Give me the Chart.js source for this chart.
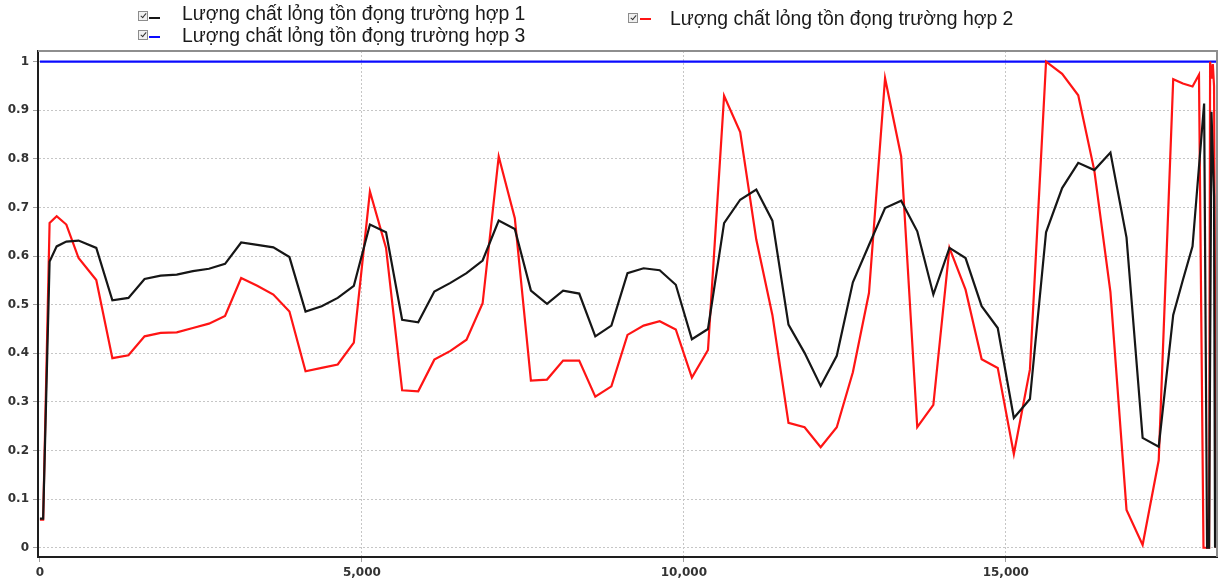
<!DOCTYPE html>
<html><head><meta charset="utf-8">
<script src="https://cdn.jsdelivr.net/npm/chart.js@4.4.1/dist/chart.umd.min.js"></script>
<style>
html,body{margin:0;padding:0;background:#fff;}
#wrap{position:relative;width:1219px;height:581px;overflow:hidden;}
canvas{position:absolute;left:0;top:0;}
.tx{position:absolute;font-family:"Liberation Sans",Arial,sans-serif;font-size:19.4px;line-height:22px;color:#1a1a1a;white-space:nowrap;}
.cb{position:absolute;width:8px;height:8px;border:1px solid #8c8c8c;background:#f0f0f0;box-sizing:content-box;}
.cb::after{content:"";position:absolute;left:2.5px;top:0px;width:2px;height:5px;border-right:1.5px solid #333;border-bottom:1.5px solid #333;transform:rotate(40deg);}
.ln{position:absolute;width:11px;height:2px;}
</style></head>
<body><div id="wrap"><canvas id="c" width="1219" height="581"></canvas><div id="legend"></div></div>
<script>
// ---- data ----
const seriesNames = [
  "Lượng chất lỏng tồn đọng trường hợp 1",
  "Lượng chất lỏng tồn đọng trường hợp 2",
  "Lượng chất lỏng tồn đọng trường hợp 3"
];
const xs = [0, 50, 150, 260, 410, 600, 875, 1125, 1375, 1625, 1875, 2125, 2375, 2625, 2875,
  3125, 3375, 3625, 3875, 4125, 4375, 4625, 4875, 5125, 5375, 5625, 5875, 6125, 6375, 6625, 6875,
  7125, 7375, 7625, 7875, 8125, 8375, 8625, 8875, 9125, 9375, 9625, 9875, 10125, 10375, 10625, 10875,
  11125, 11375, 11625, 11875, 12125, 12375, 12625, 12875, 13125, 13375, 13625, 13875, 14125, 14375, 14625, 14875,
  15125, 15375, 15625, 15875, 16125, 16375, 16625, 16875, 17125, 17375, 17600, 17750, 17900, 18000,
  18070, 18080, 18126, 18157, 18173, 18194, 18215, 18234, 18250, 18266];
const series1 = [0.06, 0.06, 0.589, 0.620, 0.630, 0.632, 0.617, 0.509, 0.514, 0.553, 0.560, 0.562, 0.569, 0.574, 0.584,
  0.628, 0.623, 0.618, 0.598, 0.486, 0.497, 0.514, 0.539, 0.665, 0.649, 0.469, 0.464, 0.527, 0.545, 0.565, 0.591,
  0.673, 0.656, 0.529, 0.502, 0.529, 0.523, 0.435, 0.457, 0.565, 0.575, 0.571, 0.541, 0.429, 0.450, 0.668, 0.716,
  0.737, 0.673, 0.459, 0.401, 0.333, 0.395, 0.546, 0.623, 0.699, 0.714, 0.651, 0.521, 0.617, 0.596, 0.497, 0.452,
  0.267, 0.306, 0.649, 0.740, 0.792, 0.777, 0.813, 0.638, 0.226, 0.208, 0.479, 0.551, 0.620, null,
  null, 0.914, 0.0, 0.0, null, 0.897, null, 0.723, 0.0, null];
const series2 = [0.058, 0.058, 0.668, 0.682, 0.665, 0.596, 0.551, 0.390, 0.396, 0.435, 0.442, 0.443, 0.452, 0.461, 0.477,
  0.555, 0.539, 0.521, 0.486, 0.363, 0.370, 0.377, 0.422, 0.733, 0.617, 0.324, 0.322, 0.387, 0.405, 0.428, 0.503,
  0.805, 0.678, 0.344, 0.346, 0.385, 0.385, 0.311, 0.332, 0.438, 0.457, 0.466, 0.449, 0.350, 0.407, 0.930, 0.855,
  0.634, 0.479, 0.257, 0.248, 0.207, 0.248, 0.361, 0.524, 0.966, 0.805, 0.248, 0.294, 0.617, 0.531, 0.388, 0.370,
  0.193, 0.367, 1.0, 0.975, 0.931, 0.776, 0.526, 0.078, 0.006, 0.180, 0.964, 0.955, 0.949, 0.973,
  0.0, null, null, 0.0, 1.0, 0.965, 0.995, 0.95, null, 0.0];
const xs3 = [0, 18280];
const series3 = [1, 1];
const xTicks = [0, 5000, 10000, 15000];
const xTickLabels = ["0", "5,000", "10,000", "15,000"];
const yTicks = [0, 0.1, 0.2, 0.3, 0.4, 0.5, 0.6, 0.7, 0.8, 0.9, 1];
const yTickLabels = ["0", "0.1", "0.2", "0.3", "0.4", "0.5", "0.6", "0.7", "0.8", "0.9", "1"];
const colors = ["#161616", "#ff1414", "#0a0aff"];

// ---- legend (HTML) ----
const legendPos = [
  {cbx: 138, cby: 11, lnx: 149, lny: 17, tx: 182, ty: 2},
  {cbx: 628, cby: 13, lnx: 640, lny: 18, tx: 670, ty: 7},
  {cbx: 138, cby: 30, lnx: 149, lny: 36, tx: 182, ty: 24}
];
const lg = document.getElementById('legend');
seriesNames.forEach((name, i) => {
  const p = legendPos[i];
  const cb = document.createElement('span'); cb.className = 'cb';
  cb.style.left = p.cbx + 'px'; cb.style.top = p.cby + 'px'; lg.appendChild(cb);
  const ln = document.createElement('span'); ln.className = 'ln';
  ln.style.left = p.lnx + 'px'; ln.style.top = p.lny + 'px'; ln.style.background = colors[i]; lg.appendChild(ln);
  const t = document.createElement('span'); t.className = 'tx';
  t.style.left = p.tx + 'px'; t.style.top = p.ty + 'px'; t.textContent = name; lg.appendChild(t);
});

const frame = {
  id: 'frame',
  afterDatasetsDraw(c) {
    const {ctx, chartArea: a} = c;
    ctx.save();
    ctx.strokeStyle = '#8e8e8e'; ctx.lineWidth = 2;
    ctx.beginPath();
    ctx.moveTo(a.left, a.top); ctx.lineTo(a.right, a.top); ctx.lineTo(a.right, a.bottom);
    ctx.stroke();
    ctx.restore();
  }
};

const tickFont = {family: "'DejaVu Sans', sans-serif", size: 12, weight: 'bold'};
new Chart(document.getElementById('c'), {
  type: 'line',
  data: {
    datasets: [
      {label: seriesNames[0], data: xs.map((x, i) => ({x: x, y: series1[i]})), borderColor: colors[0], borderWidth: 2.2, pointRadius: 0, spanGaps: true, tension: 0},
      {label: seriesNames[1], data: xs.map((x, i) => ({x: x, y: series2[i]})), borderColor: colors[1], borderWidth: 2.2, pointRadius: 0, spanGaps: true, tension: 0},
      {label: seriesNames[2], data: xs3.map((x, i) => ({x: x, y: series3[i]})), borderColor: colors[2], borderWidth: 2.2, pointRadius: 0, tension: 0}
    ]
  },
  options: {
    responsive: false, animation: false, devicePixelRatio: 1,
    layout: {padding: {top: 51, right: 2, left: 0, bottom: 0}},
    plugins: {legend: {display: false}, tooltip: {enabled: false}},
    scales: {
      x: {
        type: 'linear', min: -30, max: 18280,
        afterFit(s) { s.height = 24; },
        afterBuildTicks(s) { s.ticks = xTicks.map(v => ({value: v})); },
        ticks: {font: tickFont, color: '#333', padding: 4, maxRotation: 0, autoSkip: false,
          callback: (v, i) => xTickLabels[i]},
        grid: {color: c => (c.tick && c.tick.value === 0) ? 'rgba(0,0,0,0)' : '#c6c6c6', tickLength: 5, tickColor: '#a0a0a0', lineWidth: 1},
        border: {color: '#1e1e1e', width: 2, dash: [2, 2]}
      },
      y: {
        type: 'linear', min: -0.019, max: 1.022,
        afterFit(s) { s.width = 38; },
        afterBuildTicks(s) { s.ticks = yTicks.map(v => ({value: v})); },
        ticks: {font: tickFont, color: '#333', padding: 4, autoSkip: false,
          callback: (v, i) => yTickLabels[i]},
        grid: {color: '#c6c6c6', tickLength: 5, tickColor: '#a0a0a0', lineWidth: 1},
        border: {color: '#1e1e1e', width: 2, dash: [2, 2]}
      }
    }
  },
  plugins: [frame]
});
</script>
</body></html>
